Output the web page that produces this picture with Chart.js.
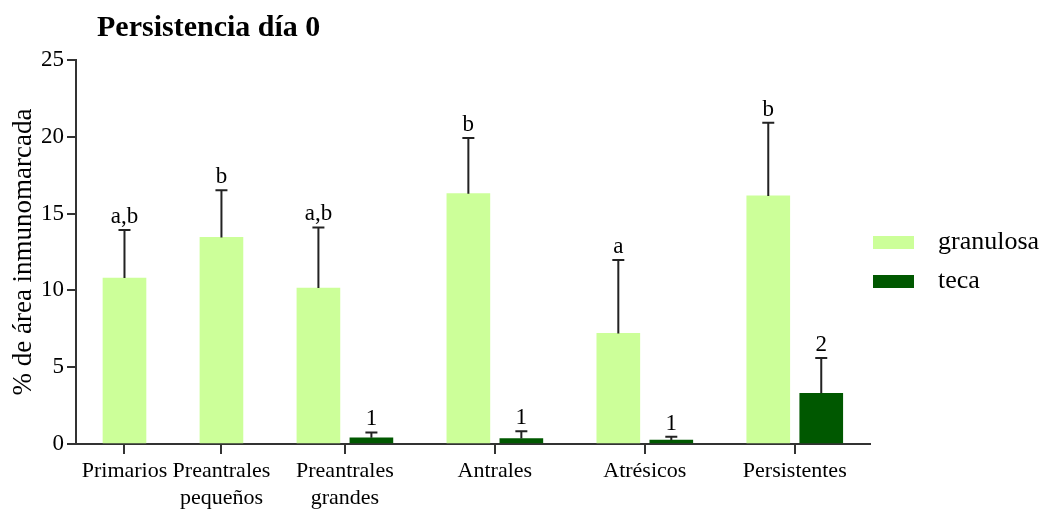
<!DOCTYPE html>
<html>
<head>
<meta charset="utf-8">
<script src="https://cdn.jsdelivr.net/npm/chart.js@4.4.1/dist/chart.umd.min.js"></script>
<style>
  html, body { margin: 0; padding: 0; background: #fff; }
  #wrap { width: 1045px; height: 509px; }
</style>
</head>
<body>
<div id="wrap"><canvas id="chart"></canvas></div>
<script>
// data
const categories = ['Primarios', ['Preantrales', 'pequeños'], ['Preantrales', 'grandes'], 'Antrales', 'Atrésicos', 'Persistentes'];
const granulosa = [10.8, 13.45, 10.15, 16.3, 7.2, 16.15];
const granulosaErr = [3.13, 3.07, 3.95, 3.62, 4.78, 4.77];
const granulosaSig = ['a,b', 'b', 'a,b', 'b', 'a', 'b'];
const teca = [null, null, 0.4, 0.35, 0.25, 3.3];
const tecaErr = [null, null, 0.35, 0.48, 0.23, 2.3];
const tecaSig = [null, null, '1', '1', '1', '2'];
const yTicks = [0, 5, 10, 15, 20, 25];

const FONT = 'Liberation Serif';
const GROUP_STEP = 1.83; // distance from last bar of a group to first bar of the next

// positions along the x axis: groups without a teca bar hold only one bar
const granX = [], tecaX = [], groupCenters = [];
let pos = 0;
categories.forEach((c, i) => {
  const two = teca[i] != null;
  granX.push(pos);
  tecaX.push(two ? pos + 1 : null);
  groupCenters.push(two ? pos + 0.5 : pos);
  pos += (two ? 1 : 0) + GROUP_STEP;
});

const errSets = [
  { err: granulosaErr, sig: granulosaSig },
  { err: tecaErr, sig: tecaSig }
];

const extras = {
  id: 'extras',
  afterDatasetsDraw(chart) {
    const ctx = chart.ctx;
    const y = chart.scales.y;
    ctx.save();
    chart.data.datasets.forEach((ds, d) => {
      const meta = chart.getDatasetMeta(d);
      meta.data.forEach((bar, i) => {
        const v = ds.data[i].y;
        if (v == null) return;
        const top = y.getPixelForValue(v + errSets[d].err[i]);
        ctx.strokeStyle = '#222';
        ctx.lineWidth = 2;
        ctx.beginPath();
        ctx.moveTo(bar.x, bar.y);
        ctx.lineTo(bar.x, top);
        ctx.moveTo(bar.x - 6, top);
        ctx.lineTo(bar.x + 6, top);
        ctx.stroke();
        ctx.fillStyle = '#000';
        ctx.font = '23px "' + FONT + '"';
        ctx.textAlign = 'center';
        ctx.textBaseline = 'alphabetic';
        ctx.fillText(errSets[d].sig[i], bar.x, top - 7);
      });
    });
    ctx.restore();
  },
  afterDraw(chart) {
    const ctx = chart.ctx;
    const area = chart.chartArea;
    ctx.save();
    // title
    ctx.fillStyle = '#000';
    ctx.font = 'bold 30px "' + FONT + '"';
    ctx.textAlign = 'left';
    ctx.textBaseline = 'middle';
    ctx.fillText('Persistencia día 0', 97, 28);
    // legend
    ctx.font = '26px "' + FONT + '"';
    chart.data.datasets.forEach((ds, d) => {
      const yc = 242.5 + d * 39;
      ctx.fillStyle = ds.backgroundColor;
      ctx.fillRect(area.right + 3, yc - 6.5, 41, 13);
      ctx.fillStyle = '#000';
      ctx.fillText(ds.label, area.right + 68, yc);
    });
    ctx.restore();
  }
};

new Chart(document.getElementById('chart'), {
  type: 'bar',
  data: {
    datasets: [
      {
        label: 'granulosa',
        data: granulosa.map((v, i) => ({ x: granX[i], y: v })),
        backgroundColor: '#CCFF99',
        barThickness: 43
      },
      {
        label: 'teca',
        data: teca.map((v, i) => ({ x: tecaX[i] == null ? granX[i] : tecaX[i], y: v })),
        backgroundColor: '#005800',
        barThickness: 43
      }
    ]
  },
  options: {
    responsive: true,
    maintainAspectRatio: false,
    animation: false,
    grouped: false,
    layout: { padding: { top: 60, right: 175, left: 0, bottom: 0 } },
    plugins: {
      legend: { display: false },
      title: { display: false },
      tooltip: { enabled: false }
    },
    scales: {
      x: {
        type: 'linear',
        min: -0.915,
        max: 14.07,
        offset: false,
        grid: { display: true, drawOnChartArea: false, offset: false, tickLength: 10, color: '#333', lineWidth: 2 },
        border: { display: true, color: '#333', width: 2 },
        afterBuildTicks: (scale) => { scale.ticks = groupCenters.map(v => ({ value: v })); },
        afterFit: (scale) => { scale.height = 65; },
        ticks: {
          autoSkip: false,
          maxRotation: 0,
          padding: 3,
          color: '#000',
          font: { family: FONT, size: 22, lineHeight: 1.25 },
          callback: (value, index) => categories[index]
        }
      },
      y: {
        min: 0,
        max: 25,
        afterBuildTicks: (scale) => { scale.ticks = yTicks.map(v => ({ value: v })); },
        afterFit: (scale) => { scale.width = 76; },
        grid: { display: true, drawOnChartArea: false, tickLength: 9, color: '#333', lineWidth: 2 },
        border: { display: true, color: '#333', width: 2 },
        ticks: {
          padding: 3,
          color: '#000',
          font: { family: FONT, size: 23 }
        },
        title: {
          display: true,
          text: '% de área inmunomarcada',
          color: '#000',
          font: { family: FONT, size: 27 },
          padding: { top: 8, bottom: 0 }
        }
      }
    }
  },
  plugins: [extras]
});
</script>
</body>
</html>
